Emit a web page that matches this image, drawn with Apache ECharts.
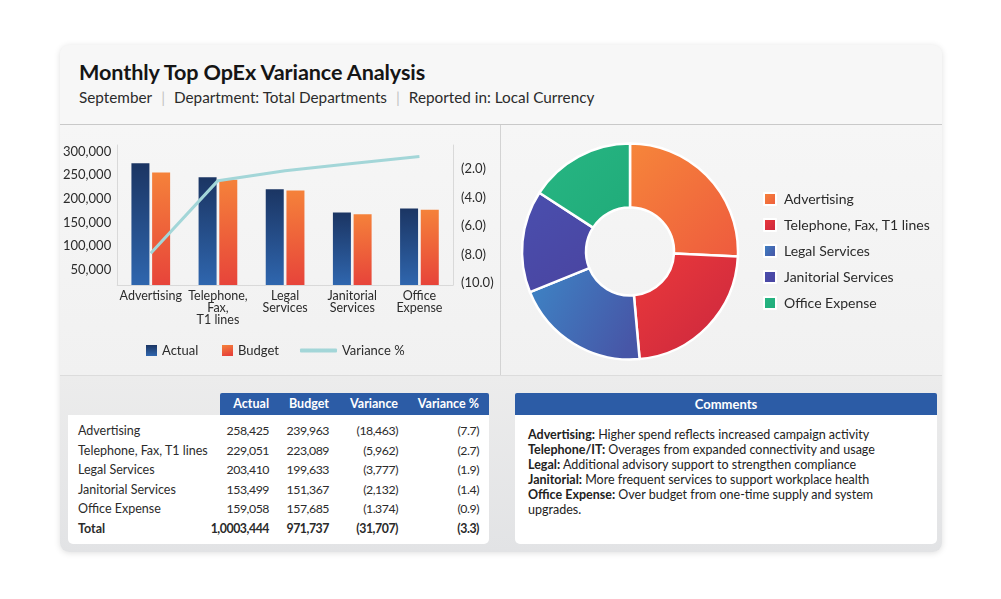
<!DOCTYPE html>
<html>
<head>
<meta charset="utf-8">
<script src="https://cdn.jsdelivr.net/npm/echarts@6/dist/echarts.min.js"></script>
<style>
    html, body { margin: 0; padding: 0; background: #ffffff; }
    body { width: 1001px; height: 599px; position: relative; font-family: Lato, "Open Sans", sans-serif; color: #2b2b2b; overflow: hidden; }
    .card { position: absolute; left: 60px; top: 45px; width: 882px; height: 507px; border-radius: 9px; background: #f5f5f5; box-shadow: 0 1px 6px rgba(0,0,0,0.13); overflow: hidden; }
    .header { position: absolute; left: 0; top: 0; width: 882px; height: 79px; background: #f7f7f7; border-bottom: 1px solid #c9c9c9; }
    .title { position: absolute; left: 19px; top: 14px; font-size: 21.6px; font-weight: 700; color: #151515; letter-spacing: -0.1px; }
    .subtitle { position: absolute; left: 19px; top: 43px; font-size: 15.3px; color: #2b2b2b; white-space: nowrap; }
    .subtitle .sep { color: #c4c4c4; margin: 0 9px; }
    .panel { position: absolute; top: 80px; height: 250px; background: linear-gradient(#f6f6f6, #f1f1f1); }
    .vline { position: absolute; left: 440px; top: 80px; width: 1px; height: 250px; background: #d3d3d3; }
    .bottom { position: absolute; left: 0; top: 330px; width: 882px; height: 177px; background: linear-gradient(#ececec, #e2e3e5); border-top: 1px solid #dcdcdc; }
    .thead { position: absolute; left: 160px; top: 17px; width: 269px; height: 22px; background: #2c5ca6; border-radius: 2px 2px 0 0; }
    .tbody { position: absolute; left: 8px; top: 39px; width: 421px; height: 129px; background: #ffffff; border-radius: 0 0 5px 5px; }
    .row { position: absolute; left: 0; height: 19px; width: 421px; font-size: 12.5px; line-height: 19px; color: #2b2b2b; }
    .cell { position: absolute; top: 0; text-align: right; white-space: nowrap; }
    .num { font-size: 12.3px; letter-spacing: -0.45px; }
    .hcell { position: absolute; top: 0; height: 22px; line-height: 22px; font-size: 12.5px; font-weight: 700; color: #ffffff; text-align: right; white-space: nowrap; }
    .chead { position: absolute; left: 455px; top: 17px; width: 422px; height: 22px; background: #2c5ca6; color: #fff; font-weight: 700; font-size: 13px; line-height: 22px; text-align: center; border-radius: 2px 2px 0 0; }
    .cbody { position: absolute; left: 455px; top: 39px; width: 422px; height: 129px; background: #ffffff; border-radius: 0 0 5px 5px; }
    .ctext { position: absolute; left: 13px; top: 12px; width: 400px; font-size: 12.5px; line-height: 15px; color: #222; }
</style>
</head>
<body>
<div class="card">
    <div class="header">
        <div class="title">Monthly Top OpEx Variance Analysis</div>
        <div class="subtitle">September<span class="sep">|</span>Department: Total Departments<span class="sep">|</span>Reported in: Local Currency</div>
    </div>
    <div class="panel" style="left:0;width:440px;"><div id="bar" style="width:440px;height:250px;"></div></div>
    <div class="vline"></div>
    <div class="panel" style="left:441px;width:441px;"><div id="pie" style="width:441px;height:250px;"></div></div>
    <div class="bottom">
        <div class="thead" id="thead"></div>
        <div class="tbody" id="tbody"></div>
        <div class="chead">Comments</div>
        <div class="cbody"><div class="ctext" id="comments"></div></div>
    </div>
</div>

<script>
    // chart data
    var categories = ['Advertising', 'Telephone,\nFax,\nT1 lines', 'Legal\nServices', 'Janitorial\nServices', 'Office\nExpense'];
    var actualBars = [275500, 245900, 220500, 171100, 179600];
    var budgetBars = [255600, 240200, 217600, 167700, 176800];
    var variancePct = [7.9, 2.8, 2.1, 1.6, 1.1];
    var leftTicks = [50000, 100000, 150000, 200000, 250000, 300000];
    var rightTicks = [2, 4, 6, 8, 10];

    // table data
    var rowNames = ['Advertising', 'Telephone, Fax, T1 lines', 'Legal Services', 'Janitorial Services', 'Office Expense'];
    var tableActual = ['258,425', '229,051', '203,410', '153,499', '159,058'];
    var tableBudget = ['239,963', '223,089', '199,633', '151,367', '157,685'];
    var tableVariance = ['(18,463)', '(5,962)', '(3,777)', '(2,132)', '(1.374)'];
    var tableVarPct = ['(7.7)', '(2.7)', '(1.9)', '(1.4)', '(0.9)'];
    var totalRow = ['Total', '1,0003,444', '971,737', '(31,707)', '(3.3)'];
    var columnNames = ['Actual', 'Budget', 'Variance', 'Variance %'];

    // donut uses the table actuals
    var pieNames = ['Advertising', 'Telephone, Fax, T1 lines', 'Legal Services', 'Janitorial Services', 'Office Expense'];
    var pieValues = [258425, 229051, 203410, 153499, 159058];

    var comments = [
        ['Advertising:', 'Higher spend reflects increased campaign activity'],
        ['Telephone/IT:', 'Overages from expanded connectivity and usage'],
        ['Legal:', 'Additional advisory support to strengthen compliance'],
        ['Janitorial:', 'More frequent services to support workplace health'],
        ['Office Expense:', 'Over budget from one-time supply and system upgrades.']
    ];

    var FONT = 'Lato';

    function grad(x2, y2, c1, c2) {
        return new echarts.graphic.LinearGradient(0, 0, x2, y2, [
            { offset: 0, color: c1 }, { offset: 1, color: c2 }
        ]);
    }

    function renderBar() {
        var chart = echarts.init(document.getElementById('bar'));
        var legendText = { fontFamily: FONT, fontSize: 13, color: '#2b2b2b' };
        var option = {
            animation: false,
            grid: { left: 56, right: 47, top: 20, bottom: 90 },
            legend: [
                { data: ['Actual'], left: 81, top: 214, icon: 'rect', itemWidth: 11, itemHeight: 11, textStyle: legendText },
                { data: ['Budget'], left: 157, top: 214, icon: 'rect', itemWidth: 11, itemHeight: 11, textStyle: legendText },
                { data: [{ name: 'Variance %', icon: 'roundRect' }], left: 235, top: 214, itemWidth: 37, itemHeight: 4, textStyle: legendText }
            ],
            xAxis: {
                type: 'category',
                data: categories,
                axisLine: { lineStyle: { color: '#d9d9d9' } },
                axisTick: { show: false },
                axisLabel: { interval: 0, margin: 5, fontFamily: FONT, fontSize: 12.5, lineHeight: 12, color: '#2b2b2b' }
            },
            yAxis: [
                {
                    type: 'value', min: 17700, max: 314000,
                    splitLine: { show: false },
                    axisLine: { show: true, lineStyle: { color: '#d9d9d9' } },
                    axisTick: { show: false },
                    axisLabel: {
                        customValues: leftTicks, margin: 6,
                        fontFamily: FONT, fontSize: 13, color: '#2b2b2b',
                        formatter: function (v) { return v.toLocaleString('en-US'); }
                    }
                },
                {
                    type: 'value', min: 0.3, max: 10.12, inverse: true,
                    splitLine: { show: false },
                    axisLine: { show: true, lineStyle: { color: '#d9d9d9' } },
                    axisTick: { show: false },
                    axisLabel: {
                        customValues: rightTicks, margin: 8,
                        fontFamily: FONT, fontSize: 13, color: '#2b2b2b',
                        formatter: function (v) { return '(' + v.toFixed(1) + ')'; }
                    }
                }
            ],
            series: [
                {
                    name: 'Actual', type: 'bar', barWidth: 18, barGap: '15%',
                    itemStyle: { color: grad(0, 1, '#1b3563', '#2f66ae') },
                    data: actualBars
                },
                {
                    name: 'Budget', type: 'bar', barWidth: 18,
                    itemStyle: { color: grad(0.3, 1, '#f5823a', '#e7443a') },
                    data: budgetBars
                },
                {
                    name: 'Variance %', type: 'line', yAxisIndex: 1,
                    symbol: 'none', z: 5,
                    lineStyle: { color: '#a3d6d8', width: 3 },
                    itemStyle: { color: '#a3d6d8' },
                    data: variancePct
                }
            ]
        };
        chart.setOption(option);
    }

    function renderPie() {
        var chart = echarts.init(document.getElementById('pie'));
        var colors = [
            grad(1, 1, '#f6863a', '#ee5a3e'),
            grad(1, 1, '#ec3a3a', '#c9263f'),
            grad(1, 0.6, '#3d86c6', '#4756a7'),
            grad(1, 1, '#4a4fae', '#4a44a0'),
            grad(1, 1, '#27b683', '#20ab79')
        ];
        var data = pieNames.map(function (n, i) {
            return { name: n, value: pieValues[i], itemStyle: { color: colors[i] } };
        });
        var option = {
            animation: false,
            legend: {
                orient: 'vertical', left: 257, top: 62,
                icon: 'rect', itemWidth: 12, itemHeight: 12, itemGap: 12,
                textStyle: { fontFamily: FONT, fontSize: 14, color: '#2b2b2b', padding: [0, 0, 0, 3] },
                data: pieNames
            },
            series: [{
                type: 'pie', startAngle: 90, clockwise: true,
                center: [129, 126.5], radius: [44, 108],
                label: { show: false }, labelLine: { show: false },
                itemStyle: { borderColor: '#ffffff', borderWidth: 2.5 },
                data: data
            }]
        };
        chart.setOption(option);
    }

    function renderTable() {
        // right edges of value columns, relative to table body
        var rightEdges = [201, 261, 330, 411];
        var head = document.getElementById('thead');
        columnNames.forEach(function (c, i) {
            var d = document.createElement('div');
            d.className = 'hcell';
            d.style.right = (269 - (rightEdges[i] - 152)) + 'px';
            d.textContent = c;
            head.appendChild(d);
        });
        var body = document.getElementById('tbody');
        var rows = rowNames.map(function (n, i) {
            return [n, tableActual[i], tableBudget[i], tableVariance[i], tableVarPct[i]];
        });
        rows.push(totalRow);
        rows.forEach(function (r, i) {
            var row = document.createElement('div');
            row.className = 'row';
            row.style.top = (6 + i * 19.5) + 'px';
            if (i === rows.length - 1) row.style.fontWeight = '700';
            var name = document.createElement('div');
            name.className = 'cell';
            name.style.left = '10px';
            name.style.textAlign = 'left';
            name.textContent = r[0];
            row.appendChild(name);
            for (var k = 1; k < r.length; k++) {
                var c = document.createElement('div');
                c.className = 'cell num';
                c.style.right = (421 - rightEdges[k - 1]) + 'px';
                c.textContent = r[k];
                row.appendChild(c);
            }
            body.appendChild(row);
        });
    }

    function renderComments() {
        var box = document.getElementById('comments');
        box.innerHTML = comments.map(function (c) {
            return '<b>' + c[0] + '</b> ' + c[1];
        }).join('<br>');
    }

    renderBar();
    renderPie();
    renderTable();
    renderComments();
</script>
</body>
</html>
